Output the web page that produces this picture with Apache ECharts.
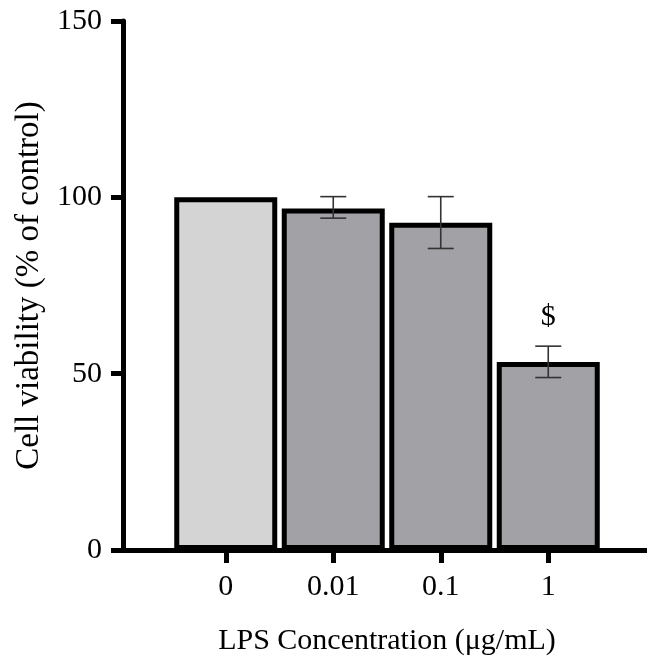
<!DOCTYPE html>
<html>
<head>
<meta charset="utf-8">
<script src="https://cdn.jsdelivr.net/npm/echarts@6/dist/echarts.min.js"></script>
<style>
html,body{margin:0;padding:0;background:#fff;}
#chart{width:647px;height:656px;}
</style>
</head>
<body>
<div id="chart"></div>
<script>
const categories = ['0', '0.01', '0.1', '1'];
const viability = [100, 96.8, 92.8, 53.3];
const errLow = [null, 94.1, 85.5, 48.9];
const errHigh = [null, 100.2, 100.2, 57.8];
const marks = ['', '', '', '$'];
const yTicks = [0, 50, 100, 150];

const FONT = '"Liberation Serif", "Times New Roman", serif';
const barColors = ['#d4d4d4', '#a2a1a6', '#a2a1a6', '#a2a1a6'];

const chart = echarts.init(document.getElementById('chart'), null, {renderer: 'canvas'});

const errData = categories.map((c, i) => [i, errLow[i], errHigh[i], marks[i]]);

chart.setOption({
  animation: false,
  backgroundColor: '#ffffff',
  grid: [
    {left: 172, right: 45, top: 21, bottom: 106, containLabel: false, outerBoundsMode: 'none'},
    {left: 123, right: 0, top: 21, bottom: 106, containLabel: false, outerBoundsMode: 'none'}
  ],
  xAxis: [
    {
      type: 'category', gridIndex: 0, data: categories,
      axisLine: {show: false},
      axisTick: {show: true, alignWithLabel: true, length: 13, lineStyle: {color: '#000', width: 5}},
      axisLabel: {color: '#000', fontFamily: FONT, fontSize: 30, margin: 22},
      name: 'LPS Concentration (\u03bcg/mL)', nameLocation: 'middle', nameGap: 76,
      nameTextStyle: {color: '#000', fontFamily: FONT, fontSize: 30}
    },
    {
      type: 'value', gridIndex: 1, min: 0, max: 1,
      axisLine: {show: true, lineStyle: {color: '#000', width: 5}},
      axisTick: {show: false}, axisLabel: {show: false}, splitLine: {show: false}
    }
  ],
  yAxis: [
    {
      type: 'value', gridIndex: 0, min: yTicks[0], max: yTicks[yTicks.length - 1], interval: 50,
      offset: 49,
      axisLine: {show: true, lineStyle: {color: '#000', width: 5}},
      axisTick: {show: true, length: 12, lineStyle: {color: '#000', width: 5}},
      axisLabel: {color: '#000', fontFamily: FONT, fontSize: 30, margin: 21},
      splitLine: {show: false},
      name: 'Cell viability (% of control)', nameLocation: 'middle', nameGap: 77,
      nameTextStyle: {color: '#000', fontFamily: FONT, fontSize: 33}
    },
    {type: 'value', gridIndex: 1, min: 0, max: 1, show: false}
  ],
  series: [
    {
      type: 'bar', xAxisIndex: 0, yAxisIndex: 0,
      barWidth: 103,
      data: viability.map((v, i) => ({value: v, itemStyle: {color: barColors[i]}})),
      itemStyle: {borderColor: '#000', borderWidth: 5},
      z: 2
    },
    {
      type: 'custom', xAxisIndex: 0, yAxisIndex: 0,
      data: errData,
      z: 5,
      renderItem: function (params, api) {
        const lo = api.value(1), hi = api.value(2);
        const idx = api.value(0);
        const mark = marks[idx];
        if (lo == null || isNaN(lo)) return null;
        const top = api.coord([idx, hi]);
        const bot = api.coord([idx, lo]);
        const half = 13;
        const st = {stroke: '#333', lineWidth: 1.6};
        const children = [
          {type: 'line', shape: {x1: top[0], y1: top[1], x2: bot[0], y2: bot[1]}, style: st},
          {type: 'line', shape: {x1: top[0] - half, y1: top[1], x2: top[0] + half, y2: top[1]}, style: st},
          {type: 'line', shape: {x1: bot[0] - half, y1: bot[1], x2: bot[0] + half, y2: bot[1]}, style: st}
        ];
        if (mark) {
          children.push({type: 'text', style: {text: mark, x: top[0], y: top[1] - 29, align: 'center', verticalAlign: 'middle', font: '30px ' + FONT, fill: '#000'}});
        }
        return {type: 'group', children: children};
      }
    }
  ]
});
</script>
</body>
</html>
